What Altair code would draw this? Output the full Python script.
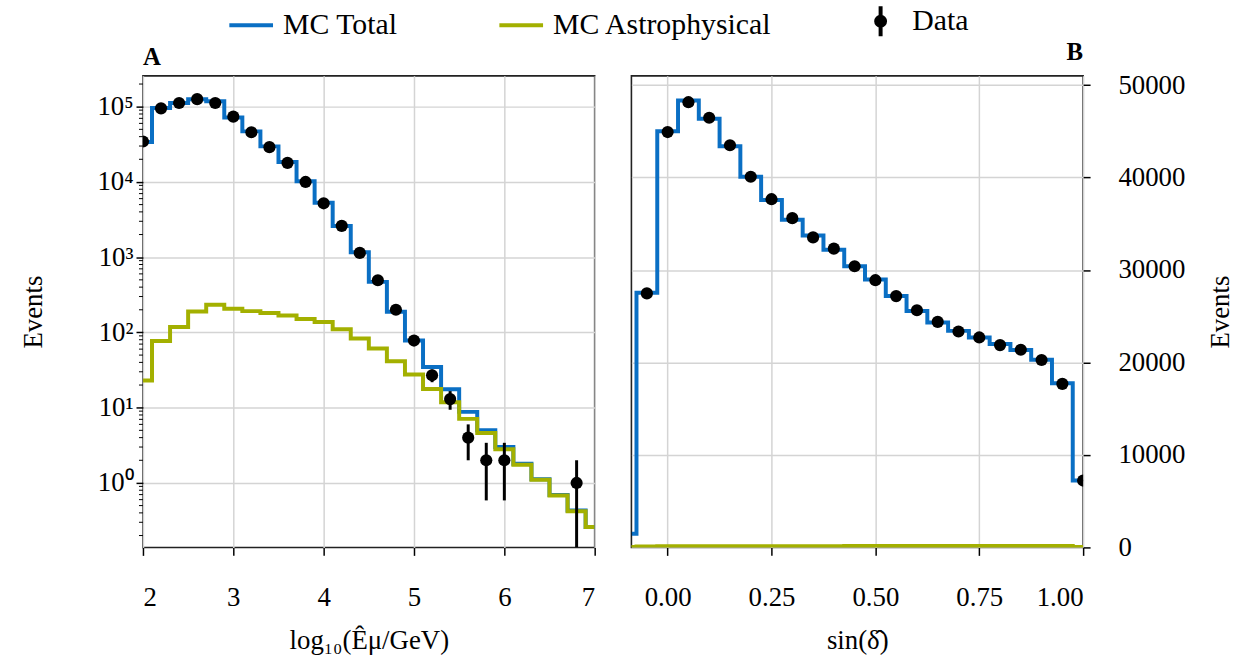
import altair as alt
import pandas as pd
import numpy as np

BLUE = "#0a6fc4"
GREEN = "#a3b000"
FONT = "Liberation Serif"

# ---------------- Panel A : reconstructed energy ----------------
a_bins = [2.0, 2.2, 2.4, 2.6, 2.8, 3.0, 3.2, 3.4, 3.6, 3.8, 4.0, 4.2, 4.4,
          4.6, 4.8, 5.0, 5.2, 5.4, 5.6, 5.8, 6.0, 6.2, 6.4, 6.6, 6.8, 7.0]
a_mc_total = [34000, 96000, 112000, 126000, 118000, 72000, 47000, 29700,
              18400, 10200, 5300, 2600, 1160, 470, 188, 78, 34.7, 17.6, 8.8,
              5.0, 3.0, 1.8, 1.12, 0.69, 0.43, 0.26]
a_mc_astro = [23, 77, 118, 190, 233, 206, 192, 181, 168, 151, 138, 110, 83,
              61, 41.5, 27.7, 17.7, 11.8, 7.1, 4.6, 2.8, 1.75, 1.1, 0.68,
              0.42, 0.26]
a_data_x = [2.0, 2.2, 2.4, 2.6, 2.8, 3.0, 3.2, 3.4, 3.6, 3.8, 4.0, 4.2, 4.4,
            4.6, 4.8, 5.0, 5.2, 5.4, 5.6, 5.8, 6.0, 6.8]
a_data_y = [34500, 95000, 112000, 126000, 112000, 73800, 45800, 29000,
            17900, 10000, 5200, 2610, 1140, 494, 200, 78, 27, 13, 4, 2, 2, 1]
a_xticks = [2, 3, 4, 5, 6, 7]
a_yticks = [1, 10, 100, 1000, 10000, 100000]
a_ylabels = ["10\u2070", "10\u00b9", "10\u00b2", "10\u00b3", "10\u2074", "10\u2075"]
A_YMIN, A_YMAX = 0.139, 257000

# ---------------- Panel B : declination ----------------
b_bins = [-0.10, -0.05, 0.00, 0.05, 0.10, 0.15, 0.20, 0.25, 0.30, 0.35, 0.40,
          0.45, 0.50, 0.55, 0.60, 0.65, 0.70, 0.75, 0.80, 0.85, 0.90, 0.95, 1.00]
b_mc_total = [1480, 27550, 45000, 48330, 46370, 43390, 40090, 37580, 35430,
              33740, 32200, 30410, 28980, 27180, 25570, 24320, 23420, 22710,
              21990, 21340, 20300, 17760, 7230]
b_mc_astro = [60, 110, 120, 125, 130, 130, 135, 135, 140, 140, 140, 145, 145,
              150, 150, 150, 155, 155, 160, 160, 160, 150, 60]
b_data_y = [1480, 27470, 44920, 48150, 46470, 43490, 40090, 37660, 35610,
            33530, 32310, 30410, 28900, 27180, 25650, 24390, 23350, 22710,
            21880, 21380, 20270, 17690, 7230]
b_xticks = [0.0, 0.25, 0.5, 0.75, 1.0]
b_yticks = [0, 10000, 20000, 30000, 40000, 50000]
B_XMIN, B_XMAX = -0.0872, 1.0
B_YMAX = 51000

legend_names = ["MC Total", "MC Astrophysical", "Data"]
legend_colors = [BLUE, GREEN, "black"]
legend_shapes = [
    "M-2.2,0H2.2",
    "M-2.2,0H2.2",
    "M0,-1.5V1.5M-0.45,0a0.45,0.45 0 1,0 0.9,0a0.45,0.45 0 1,0 -0.9,0Z",
]

W, H = 455, 475
LINE_W = 4

# ---------------- build panel A ----------------
dfa = pd.DataFrame({"x": a_bins, "total": a_mc_total, "astro": a_mc_astro})
dfa_d = pd.DataFrame({"x": a_data_x, "n": a_data_y})
dfa_d["lo"] = np.maximum(dfa_d["n"] - np.sqrt(dfa_d["n"]), A_YMIN)
dfa_d["hi"] = dfa_d["n"] + np.sqrt(dfa_d["n"])

label_expr_a = " : ".join(
    [f"datum.value == {v} ? '{l}'" for v, l in zip(a_yticks, a_ylabels)]) + " : ''"

xa_scale = alt.Scale(domain=[2, 7], nice=False, zero=False)
ya_scale = alt.Scale(type="log", domain=[A_YMIN, A_YMAX], nice=False)
xa_axis = alt.Axis(values=a_xticks, format="d",
                   title="log\u2081\u2080(\u00ca\u03bc/GeV)",
                   tickSize=8, labelPadding=30, titlePadding=17)
ya_axis = alt.Axis(values=a_yticks, labelExpr=label_expr_a, title="Events",
                   tickSize=7, labelPadding=3, titlePadding=50)

def xa(field="x"):
    return alt.X(f"{field}:Q", scale=xa_scale, axis=xa_axis)

def ya(field):
    return alt.Y(f"{field}:Q", scale=ya_scale, axis=ya_axis)

a_total = alt.Chart(dfa).mark_line(interpolate="step", color=BLUE,
                                   strokeWidth=LINE_W, clip=True).encode(
    x=xa(), y=ya("total"))
a_astro = alt.Chart(dfa).mark_line(interpolate="step", color=GREEN,
                                   strokeWidth=LINE_W, clip=True).encode(
    x=xa(), y=ya("astro"))
a_err = alt.Chart(dfa_d).mark_rule(color="black", strokeWidth=3, clip=True).encode(
    x=xa(), y=ya("lo"), y2="hi")
a_pts = alt.Chart(dfa_d).mark_circle(color="black", size=150, opacity=1,
                                     clip=True).encode(x=xa(), y=ya("n"))

minor_vals = [k * 10 ** e for e in range(-1, 6) for k in range(2, 10)
              if A_YMIN <= k * 10 ** e <= A_YMAX]
a_minor = alt.Chart(pd.DataFrame({"m": minor_vals})).mark_rule(
    color="black", strokeWidth=1).encode(
    y=ya("m"), x=alt.value(-4), x2=alt.value(0))

legend_df = pd.DataFrame({"series": legend_names})
leg_kw = dict(orient="none", legendX=94, legendY=-70, direction="horizontal",
              title=None, symbolSize=400, symbolStrokeWidth=4, padding=0,
              labelFont=FONT, labelFontSize=30, labelOffset=17, labelLimit=0,
              columnPadding=94, labelColor="black")
a_legend = alt.Chart(legend_df).mark_point(filled=True, opacity=1).encode(
    fill=alt.Fill("series:N", scale=alt.Scale(domain=legend_names, range=legend_colors),
                  legend=alt.Legend(**leg_kw)),
    stroke=alt.Stroke("series:N", scale=alt.Scale(domain=legend_names, range=legend_colors),
                      legend=alt.Legend(**leg_kw)),
    shape=alt.Shape("series:N", scale=alt.Scale(domain=legend_names, range=legend_shapes),
                    legend=alt.Legend(**leg_kw)),
).transform_filter("false")

panel_a = alt.layer(a_minor, a_total, a_astro, a_err, a_pts, a_legend).properties(
    width=W, height=H,
    title=alt.TitleParams("A", anchor="start", frame="group", font=FONT,
                          fontSize=25, fontWeight="bold", offset=6, color="black"))

# ---------------- build panel B ----------------
dfb = pd.DataFrame({"x": b_bins, "total": b_mc_total, "astro": b_mc_astro,
                    "n": b_data_y})
dfb["lo"] = dfb["n"] - np.sqrt(dfb["n"])
dfb["hi"] = dfb["n"] + np.sqrt(dfb["n"])

xb_scale = alt.Scale(domain=[B_XMIN, B_XMAX], nice=False, zero=False)
yb_scale = alt.Scale(domain=[0, B_YMAX], nice=False)
xb_axis = alt.Axis(values=b_xticks, format=".2f", title="sin(\u03b4\u0302)",
                   tickSize=8, labelPadding=30, titlePadding=17)
yb_axis = alt.Axis(values=b_yticks, format="d", title="Events", orient="right",
                   tickSize=7, labelPadding=28, titlePadding=50, titleAngle=270)

def xb():
    return alt.X("x:Q", scale=xb_scale, axis=xb_axis)

def yb(field):
    return alt.Y(f"{field}:Q", scale=yb_scale, axis=yb_axis)

b_total = alt.Chart(dfb).mark_line(interpolate="step", color=BLUE,
                                   strokeWidth=LINE_W, clip=True).encode(
    x=xb(), y=yb("total"))
b_astro = alt.Chart(dfb).mark_line(interpolate="step", color=GREEN,
                                   strokeWidth=LINE_W, clip=True).encode(
    x=xb(), y=yb("astro"))
b_err = alt.Chart(dfb).mark_rule(color="black", strokeWidth=3, clip=True).encode(
    x=xb(), y=yb("lo"), y2="hi")
b_pts = alt.Chart(dfb).mark_circle(color="black", size=150, opacity=1,
                                   clip=True).encode(x=xb(), y=yb("n"))

panel_b = alt.layer(b_total, b_astro, b_err, b_pts).properties(
    width=W, height=H,
    title=alt.TitleParams("B", anchor="end", frame="group", font=FONT,
                          fontSize=25, fontWeight="bold", offset=6, color="black"))

chart = alt.hconcat(panel_a, panel_b, spacing=37, bounds="flush").properties(
    padding={"left": 18, "top": 4, "right": 4, "bottom": 4},
    background="white",
).configure_view(
    stroke="#222222", strokeWidth=1.6
).configure_axis(
    labelFont=FONT, titleFont=FONT, labelFontSize=27, titleFontSize=27,
    labelColor="black", titleColor="black", titleFontWeight="normal",
    tickColor="black", tickWidth=1.5, domain=False,
    grid=True, gridColor="#d4d4d4", gridWidth=1.5,
).configure_legend(labelFont=FONT)

chart.save("out.html", embed_options={"renderer": "svg", "actions": False})
